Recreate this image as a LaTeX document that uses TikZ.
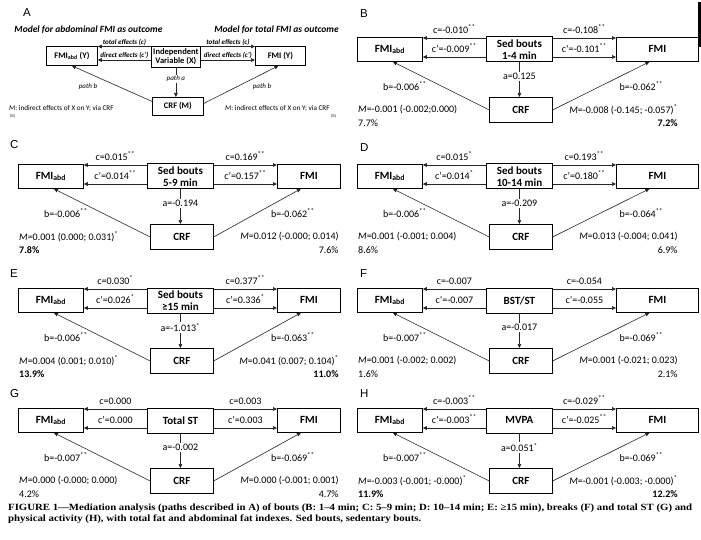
\documentclass[tikz,border=0pt]{standalone}
\usepackage{fontspec}
\usepackage{graphicx}
\setmainfont{Carlito}
\newfontfamily\letterfont{Liberation Sans}
\newfontfamily\capfont{Liberation Serif}
\usetikzlibrary{arrows.meta,calc}
\newsavebox\capboxA
\newsavebox\capboxB
\newcommand\sig[1]{\textsuperscript{#1}}
\AtBeginDocument{%
\sbox\capboxA{\capfont\bfseries\fontsize{9.5}{10}\selectfont FIGURE 1—Mediation analysis (paths described in A) of bouts (B: 1–4 min; C: 5–9 min; D: 10–14 min; E: ≥15 min), breaks (F) and total ST (G) and}%
\sbox\capboxB{\capfont\bfseries\fontsize{9.5}{10}\selectfont physical activity (H), with total fat and abdominal fat indexes. Sed bouts, sedentary bouts.}%
}
\tikzset{
  bx/.style={draw=black, line width=0.8pt, inner sep=0pt, align=center, anchor=north west,
    font=\bfseries\fontsize{11}{12}\selectfont},
  abox/.style={draw=black, line width=0.8pt, inner sep=0pt, align=center, anchor=north west,
    font=\bfseries\fontsize{8.5}{9.5}\selectfont},
  arr/.style={draw=black!85, line width=0.6pt, -{Triangle[length=4pt,width=3.6pt]}},
  lab/.style={font=\fontsize{10}{11}\selectfont, inner sep=0pt},
  alab/.style={lab, fill=white, inner sep=1.5pt},
  elab/.style={font=\bfseries\itshape\fontsize{7}{8}\selectfont, inner sep=0pt},
  plab/.style={font=\itshape\fontsize{7}{8}\selectfont, inner sep=0pt},
  mlab/.style={font=\fontsize{7.2}{8}\selectfont, inner sep=0pt, anchor=west},
  head/.style={font=\bfseries\itshape\fontsize{9.5}{10}\selectfont, inner sep=0pt},
  plabel/.style={font=\letterfont\fontsize{11.5}{12}\selectfont, anchor=west, inner sep=0pt},
}
% #1 prefix, #2 xshift, #3 row top, #4 FMI box width, #5 centre text, #6 cL, #7 c'L, #8 cR, #9 c'R
\newcommand\mpanel[9]{%
  \begin{scope}[shift={(#2,#3)}]
    \node[bx, minimum width=65pt, minimum height=24pt] (#1abd) at (18,0) {FMI\textsubscript{abd}};
    \node[bx, minimum width=66pt, minimum height=25pt] (#1x) at (147,-0.5) {#5};
    \node[bx, minimum width=#4pt, minimum height=24pt] (#1fmi) at (277,0) {FMI};
    \node[bx, minimum width=63pt, minimum height=25pt] (#1crf) at (150,60) {CRF};
  \end{scope}
  \coordinate (#1tl) at ($(#1x.north west)+(0,1.5)$);
  \coordinate (#1bl) at ($(#1x.north west)+(0,20.5)$);
  \coordinate (#1tr) at ($(#1x.north east)+(0,1.5)$);
  \coordinate (#1br) at ($(#1x.north east)+(0,20.5)$);
  \draw[arr] (#1tl) -- node[lab, midway, above=4.5pt] {#6} (#1tl -| #1abd.east);
  \draw[arr] (#1bl) -- node[lab, midway, above=4.5pt] {#7} (#1bl -| #1abd.east);
  \draw[arr] (#1tr) -- node[lab, midway, above=4.5pt] {#8} (#1tr -| #1fmi.west);
  \draw[arr] (#1br) -- node[lab, midway, above=4.5pt] {#9} (#1br -| #1fmi.west);
}
% #1 prefix, #2 a, #3 bL, #4 bR, #5 ML, #6 pctL, #7 MR, #8 pctR
\newcommand\mpanelb[8]{%
  \draw[arr] (#1x.south) -- node[alab, pos=0.41] {#2} (#1x.south |- #1crf.north);
  \draw[arr] (#1crf.west) -- ($(#1abd.south)+(3,0)$);
  \draw[arr] (#1crf.east) -- ($(#1fmi.south)+(-8,0)$);
  \node[lab] (#1bL) at ($(#1abd.south)+(15,24)$) {#3};
  \node[lab] (#1bR) at ($(#1fmi.south)+(-16,24)$) {#4};
  \node[lab, anchor=west] (#1mL) at ($(#1abd.south west)+(1,48)$) {#5};
  \node[lab, anchor=west] (#1pL) at ($(#1abd.south west)+(1,61)$) {#6};
  \node[lab, anchor=east] (#1mR) at ($(#1crf.east)+(125,0)$) {#7};
  \node[lab, anchor=east] (#1pR) at ($(#1crf.east)+(125,13)$) {#8};
}
\begin{document}
\begin{tikzpicture}[x=1pt,y=-1pt]
\useasboundingbox[fill=white] (0,0) rectangle (701,540);
\fill[black] (698,2) rectangle (701,47);

% ---------- Panel A ----------
\node[plabel] (LA) at (23,13) {A};
\node[head] (hA1) at (88.5,30) {Model for abdominal FMI as outcome};
\node[head] (hA2) at (276.5,30) {Model for total FMI as outcome};
\node[abox, minimum width=51pt, minimum height=19pt] (Aabd) at (46,46) {FMI\textsubscript{abd} (Y)};
\node[abox, minimum width=49pt, minimum height=21pt] (Ax) at (151,46) {Independent\\Variable (X)};
\node[abox, minimum width=50pt, minimum height=19pt] (Afmi) at (255,46) {FMI (Y)};
\node[abox, minimum width=51pt, minimum height=18pt] (Acrf) at (152,97) {CRF (M)};
\coordinate (Atl) at ($(Ax.north west)+(0,0.5)$);
\coordinate (Abl) at ($(Ax.north west)+(0,14)$);
\coordinate (Atr) at ($(Ax.north east)+(0,0.5)$);
\coordinate (Abr) at ($(Ax.north east)+(0,14)$);
\draw[arr] (Atl) -- node[elab, midway, above=1pt] {total effects (c)} (Atl -| Aabd.east);
\draw[arr] (Abl) -- node[elab, midway, above=1pt] {direct effects (c')} (Abl -| Aabd.east);
\draw[arr] (Atr) -- node[elab, midway, above=1pt] {total effects (c)} (Atr -| Afmi.west);
\draw[arr] (Abr) -- node[elab, midway, above=1pt] {direct effects (c')} (Abr -| Afmi.west);
\draw[arr] (Ax.south) -- node[plab, fill=white, inner sep=1pt, pos=0.37] {path a} (Ax.south |- Acrf.north);
\draw[arr] ($(Acrf.west)+(0,-5)$) -- (Aabd.south);
\draw[arr] ($(Acrf.east)+(0,-3)$) -- ($(Afmi.south)+(-2,0)$);
\node[plab] (AbL) at (88,87) {path b};
\node[plab] (AbR) at (262,87) {path b};
\node[mlab] (AmL) at (9,108) {\textit{M}: indirect effects of X on Y; via CRF};
\node[font=\fontsize{4}{4}\selectfont, inner sep=0pt] (ApL) at (12.5,116.5) {(\%)};
\node[mlab] (AmR) at (225,108) {\textit{M}: indirect effects of X on Y; via CRF};
\node[font=\fontsize{4}{4}\selectfont, inner sep=0pt] (ApR) at (333.5,116) {(\%)};

% ---------- Panel letters ----------
\node[plabel] (LB) at (360,14) {B};
\node[plabel] (LC) at (10,145) {C};
\node[plabel] (LD) at (360,148) {D};
\node[plabel] (LE) at (10,274) {E};
\node[plabel] (LF) at (360,274) {F};
\node[plabel] (LG) at (10,394) {G};
\node[plabel] (LH) at (360,394) {H};

% ---------- Panel B ----------
\mpanel{B}{339}{37}{82}{Sed bouts\\1-4 min}{c=-0.010\sig{**}}{c'=-0.009\sig{**}}{c=-0.108\sig{**}}{c'=-0.101\sig{**}}
\mpanelb{B}{a=0.125}{b=-0.006\sig{**}}{b=-0.062\sig{**}}{\textit{M}=-0.001 (-0.002;0.000)}{7.7\%}{\textit{M}=-0.008 (-0.145; -0.057)\sig{*}}{\textbf{7.2\%}}

% ---------- Panel C ----------
\mpanel{C}{0}{164}{63}{Sed bouts\\5-9 min}{c=0.015\sig{**}}{c'=0.014\sig{**}}{c=0.169\sig{**}}{c'=0.157\sig{**}}
\mpanelb{C}{a=-0.194}{b=-0.006\sig{**}}{b=-0.062\sig{**}}{\textit{M}=0.001 (0.000; 0.031)\sig{*}}{\textbf{7.8\%}}{\textit{M}=0.012 (-0.000; 0.014)}{7.6\%}

% ---------- Panel D ----------
\mpanel{D}{339}{164}{82}{Sed bouts\\10-14 min}{c=0.015\sig{*}}{c'=0.014\sig{*}}{c=0.193\sig{**}}{c'=0.180\sig{**}}
\mpanelb{D}{a=-0.209}{b=-0.006\sig{**}}{b=-0.064\sig{**}}{\textit{M}=0.001 (-0.001; 0.004)}{8.6\%}{\textit{M}=0.013 (-0.004; 0.041)}{6.9\%}

% ---------- Panel E ----------
\mpanel{E}{0}{288}{63}{Sed bouts\\≥15 min}{c=0.030\sig{*}}{c'=0.026\sig{*}}{c=0.377\sig{**}}{c'=0.336\sig{*}}
\mpanelb{E}{a=-1.013\sig{*}}{b=-0.006\sig{**}}{b=-0.063\sig{**}}{\textit{M}=0.004 (0.001; 0.010)\sig{*}}{\textbf{13.9\%}}{\textit{M}=0.041 (0.007; 0.104)\sig{*}}{\textbf{11.0\%}}

% ---------- Panel F ----------
\mpanel{F}{339}{288}{82}{BST/ST}{c=-0.007}{c'=-0.007}{c=-0.054}{c'=-0.055}
\mpanelb{F}{a=-0.017}{b=-0.007\sig{**}}{b=-0.069\sig{**}}{\textit{M}=0.001 (-0.002; 0.002)}{1.6\%}{\textit{M}=0.001 (-0.021; 0.023)}{2.1\%}

% ---------- Panel G ----------
\mpanel{G}{0}{408}{63}{Total ST}{c=0.000}{c'=0.000}{c=0.003}{c'=0.003}
\mpanelb{G}{a=-0.002}{b=-0.007\sig{**}}{b=-0.069\sig{**}}{\textit{M}=0.000 (-0.000; 0.000)}{4.2\%}{\textit{M}=0.000 (-0.001; 0.001)}{4.7\%}

% ---------- Panel H ----------
\mpanel{H}{339}{408}{82}{MVPA}{c=-0.003\sig{**}}{c'=-0.003\sig{**}}{c=-0.029\sig{**}}{c'=-0.025\sig{**}}
\mpanelb{H}{a=0.051\sig{*}}{b=-0.007\sig{**}}{b=-0.069\sig{**}}{\textit{M}=-0.003 (-0.001; -0.000)\sig{*}}{\textbf{11.9\%}}{\textit{M}=-0.001 (-0.003; -0.000)\sig{*}}{\textbf{12.2\%}}

% ---------- Caption ----------
\pgfmathsetmacro\capsc{684/\the\wd\capboxA}
\node[anchor=base west, inner sep=0pt] (cap1) at (8,510) {\scalebox{\capsc}[1]{\usebox\capboxA}};
\node[anchor=base west, inner sep=0pt] (cap2) at (8,521) {\scalebox{\capsc}[1]{\usebox\capboxB}};
\end{tikzpicture}
\end{document}
